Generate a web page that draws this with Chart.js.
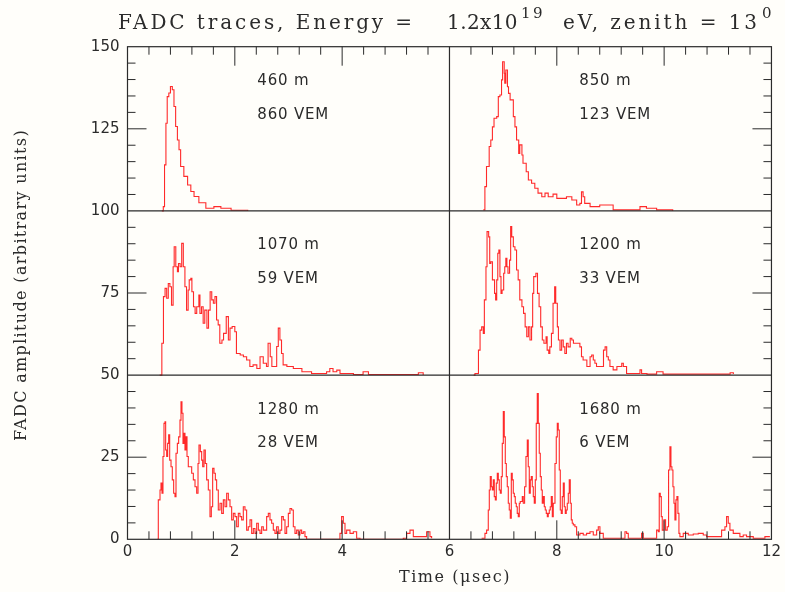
<!DOCTYPE html>
<html><head><meta charset="utf-8">
<script src="https://cdn.jsdelivr.net/npm/chart.js@4.4.0/dist/chart.umd.min.js"></script>
<style>html,body{margin:0;padding:0;background:#fffefa;}canvas{display:block}</style>
</head><body>
<canvas id="c" width="785" height="592"></canvas>
<script>
// ---- Data (time in µs within each panel, amplitude above the panel baseline) ----
const distances = ["460 m", "850 m", "1070 m", "1200 m", "1280 m", "1680 m"];
const signals = ["860 VEM", "123 VEM", "59 VEM", "33 VEM", "28 VEM", "6 VEM"];
const xTicks = [0, 2, 4, 6, 8, 10, 12];
const yTicks = [0, 25, 50, 75, 100, 125, 150];

const trace460 = [[0.64,0],[0.667,1.3],[0.69,14],[0.716,26.7],[0.74,34.8],[0.77,35.9],[0.80,37.9],[0.835,36.9],[0.866,31.8],[0.897,25.7],[0.93,21.6],[0.96,18.6],[0.99,13.5],[1.05,10.5],[1.12,7.9],[1.18,5.9],[1.24,4.4],[1.33,2.5],[1.46,0.8],[1.61,1.3],[1.74,0.8],[1.93,0.2],[2.24,0]];
const trace850 = [[0.63,0.3],[0.66,7.4],[0.69,13.5],[0.74,19.6],[0.77,21.6],[0.80,25.6],[0.83,28.2],[0.88,28.7],[0.91,34.8],[0.94,35.3],[0.97,39.9],[0.99,45.4],[1.02,41.9],[1.03,38.9],[1.05,42.9],[1.08,37.8],[1.10,35.8],[1.13,33.8],[1.16,33.8],[1.19,28.7],[1.22,25.6],[1.25,21.6],[1.29,17.5],[1.31,20.1],[1.35,17.0],[1.37,14.5],[1.43,11.9],[1.47,9.4],[1.53,8.4],[1.59,6.9],[1.65,5.4],[1.72,4.3],[1.78,5.4],[1.84,4.3],[1.93,5.1],[2.00,3.8],[2.09,3.8],[2.18,4.3],[2.28,3.3],[2.37,1.8],[2.43,2.3],[2.46,5.8],[2.49,4.3],[2.52,2.3],[2.62,1.3],[2.80,1.8],[3.05,0.3],[3.30,0.3],[3.55,1.3],[3.67,0.8],[3.86,0.3],[4.16,0]];
const trace1070 = [[0.60,0],[0.62,0],[0.64,9.7],[0.67,23.9],[0.70,26.4],[0.73,23.4],[0.76,27.9],[0.79,26.9],[0.82,21.3],[0.85,33.0],[0.87,39.1],[0.90,33.0],[0.93,31.5],[0.95,34.0],[0.98,33.0],[1.01,40.1],[1.04,33.0],[1.07,26.9],[1.10,19.8],[1.13,25.9],[1.15,29.0],[1.18,29.5],[1.20,25.4],[1.23,20.8],[1.26,18.8],[1.29,20.8],[1.33,24.4],[1.35,18.8],[1.38,20.8],[1.41,15.8],[1.44,19.8],[1.48,14.3],[1.51,19.8],[1.54,25.4],[1.57,22.9],[1.60,21.9],[1.63,23.9],[1.66,16.8],[1.69,15.3],[1.72,9.7],[1.76,10.7],[1.79,12.7],[1.84,17.8],[1.88,10.7],[1.91,14.3],[1.95,14.8],[2.00,13.2],[2.03,6.6],[2.10,6.1],[2.16,5.6],[2.22,4.6],[2.28,2.6],[2.34,3.1],[2.41,2.0],[2.47,5.6],[2.53,3.6],[2.59,2.6],[2.62,9.7],[2.66,5.6],[2.69,2.6],[2.78,8.7],[2.81,14.3],[2.84,10.7],[2.87,6.6],[2.90,3.1],[2.97,2.6],[3.09,2.0],[3.25,1.0],[3.43,0.5],[3.71,1.0],[3.77,2.0],[3.83,1.0],[3.90,1.5],[3.96,0.5],[4.21,0.2],[4.39,1.0],[4.49,0.2],[5.42,0.7],[5.51,0]];
const trace1200 = [[0.45,0],[0.475,0.5],[0.54,7.6],[0.57,13.7],[0.60,14.7],[0.63,12.7],[0.65,22.9],[0.68,33.0],[0.70,43.7],[0.73,42.1],[0.75,34.0],[0.77,34.5],[0.80,29.0],[0.82,29.0],[0.84,24.9],[0.86,22.9],[0.88,29.0],[0.90,37.1],[0.92,38.1],[0.94,30.0],[0.96,24.9],[0.98,25.9],[1.01,31.0],[1.03,33.0],[1.05,35.6],[1.07,33.0],[1.09,31.0],[1.12,35.0],[1.14,45.2],[1.16,42.1],[1.19,39.1],[1.22,38.1],[1.25,32.0],[1.28,29.0],[1.31,22.9],[1.35,20.8],[1.38,18.8],[1.41,14.7],[1.44,11.7],[1.47,14.7],[1.50,10.7],[1.53,14.7],[1.55,24.9],[1.57,30.0],[1.61,31.0],[1.64,24.9],[1.67,20.8],[1.70,14.7],[1.73,10.7],[1.76,9.7],[1.80,11.7],[1.82,7.6],[1.85,6.6],[1.87,8.6],[1.90,12.7],[1.93,21.9],[1.96,26.9],[1.98,21.9],[2.01,14.7],[2.03,10.7],[2.06,7.6],[2.09,10.7],[2.12,8.6],[2.15,6.6],[2.18,9.7],[2.21,8.6],[2.25,11.2],[2.28,10.7],[2.31,9.7],[2.37,9.7],[2.43,8.6],[2.46,5.6],[2.49,4.6],[2.56,2.6],[2.62,5.6],[2.65,6.1],[2.68,4.6],[2.71,3.6],[2.74,2.6],[2.80,2.6],[2.87,7.6],[2.90,8.6],[2.93,5.6],[2.96,4.6],[2.99,2.6],[3.05,1.6],[3.12,2.6],[3.18,2.6],[3.21,3.6],[3.24,2.6],[3.30,0.5],[3.55,1.6],[3.58,0.5],[3.68,0.3],[3.86,1.0],[3.92,1.0],[3.98,0.3],[5.23,0.7],[5.29,0.3]];
const trace1280 = [[0.556,0],[0.574,12.0],[0.606,15.0],[0.624,17.1],[0.643,14.0],[0.661,25.2],[0.680,35.3],[0.699,35.8],[0.711,27.2],[0.730,25.2],[0.748,29.2],[0.767,31.8],[0.786,24.1],[0.811,22.1],[0.835,18.1],[0.860,14.0],[0.885,13.0],[0.904,26.2],[0.929,29.2],[0.953,31.2],[0.978,36.3],[0.997,41.9],[1.015,38.4],[1.034,29.2],[1.053,32.3],[1.071,27.2],[1.090,31.2],[1.109,25.2],[1.133,22.1],[1.165,22.1],[1.196,20.1],[1.227,18.1],[1.258,16.0],[1.289,14.0],[1.314,23.1],[1.332,28.7],[1.357,26.7],[1.382,24.1],[1.401,22.1],[1.425,27.2],[1.450,23.1],[1.475,18.1],[1.506,15.0],[1.537,6.9],[1.562,9.9],[1.587,21.6],[1.612,20.1],[1.637,18.1],[1.661,15.0],[1.692,8.9],[1.724,11.0],[1.755,7.9],[1.786,12.0],[1.817,9.9],[1.848,14.0],[1.879,12.0],[1.910,9.9],[1.941,5.9],[1.972,7.9],[2.003,6.9],[2.034,3.8],[2.065,7.9],[2.096,6.9],[2.127,5.9],[2.158,9.9],[2.189,8.9],[2.220,2.8],[2.251,3.8],[2.283,5.9],[2.314,1.8],[2.345,3.3],[2.376,1.8],[2.407,4.9],[2.438,2.8],[2.469,1.8],[2.500,3.8],[2.531,2.8],[2.593,6.9],[2.624,7.9],[2.655,5.9],[2.686,4.9],[2.717,2.8],[2.748,1.8],[2.779,3.8],[2.810,1.8],[2.841,2.8],[2.873,6.9],[2.904,5.9],[2.935,1.8],[2.966,3.8],[2.997,7.9],[3.028,9.4],[3.059,8.9],[3.090,3.8],[3.121,1.8],[3.152,2.8],[3.183,1.3],[3.214,2.8],[3.245,1.8],[3.276,2.3],[3.307,0.8],[3.338,0],[3.835,0],[3.959,1.8],[3.990,6.9],[4.022,4.9],[4.053,1.8],[4.084,2.8],[4.146,1.8],[4.208,2.3],[4.270,0.3],[4.332,0],[5.139,0.3],[5.202,1.8],[5.264,2.8],[5.326,0.8],[5.512,0.8],[5.574,2.3],[5.636,0.8],[5.667,0.3]];
const trace1680 = [[0.599,0.3],[0.661,1.8],[0.692,2.8],[0.723,8.9],[0.742,15.0],[0.760,19.1],[0.779,16.0],[0.798,15.0],[0.816,18.1],[0.835,13.0],[0.854,12.0],[0.872,17.1],[0.891,20.1],[0.910,18.1],[0.928,15.0],[0.947,14.0],[0.965,19.1],[0.984,29.2],[1.003,38.9],[1.021,31.2],[1.040,23.1],[1.059,19.1],[1.077,16.0],[1.096,11.0],[1.114,8.9],[1.133,6.4],[1.152,20.1],[1.170,18.1],[1.189,14.0],[1.208,13.0],[1.226,11.0],[1.245,9.9],[1.263,7.9],[1.282,6.9],[1.301,11.0],[1.319,11.5],[1.338,11.5],[1.357,13.0],[1.375,11.0],[1.400,16.0],[1.425,25.2],[1.450,30.2],[1.468,22.1],[1.487,14.0],[1.506,18.1],[1.524,19.1],[1.543,16.0],[1.562,13.0],[1.580,11.0],[1.599,18.1],[1.617,35.3],[1.636,44.4],[1.655,35.3],[1.673,26.2],[1.692,19.1],[1.711,15.0],[1.729,11.0],[1.748,13.0],[1.767,9.9],[1.785,8.9],[1.804,7.9],[1.823,6.9],[1.841,7.9],[1.860,8.9],[1.878,9.9],[1.897,13.0],[1.916,6.9],[1.934,11.0],[1.966,23.1],[1.990,31.2],[2.009,35.3],[2.027,33.3],[2.046,21.1],[2.065,8.9],[2.083,7.9],[2.102,13.0],[2.121,17.1],[2.139,9.9],[2.158,7.9],[2.176,8.9],[2.195,11.0],[2.214,14.0],[2.232,18.1],[2.251,11.0],[2.270,5.9],[2.288,4.9],[2.307,4.4],[2.338,3.8],[2.369,1.3],[2.431,1.8],[2.493,1.3],[2.555,1.8],[2.618,2.3],[2.680,1.3],[2.742,2.8],[2.773,3.8],[2.804,1.8],[2.866,0.3],[3.239,0.3],[3.270,2.3],[3.301,1.8],[3.332,0.3],[3.549,0.3],[3.580,1.8],[3.611,0.3],[3.798,0.3],[3.860,2.8],[3.891,2.3],[3.909,14.0],[3.928,13.0],[3.947,6.9],[3.965,2.8],[3.996,5.9],[4.027,2.8],[4.058,3.8],[4.083,21.1],[4.108,28.2],[4.127,22.1],[4.145,21.1],[4.164,16.0],[4.183,11.0],[4.201,5.9],[4.220,12.0],[4.238,13.0],[4.257,7.9],[4.276,1.8],[4.294,0.8],[4.356,1.8],[4.450,1.3],[4.543,1.6],[4.636,1.8],[4.729,1.3],[4.791,0.8],[4.978,0.8],[5.071,2.8],[5.102,2.8],[5.133,3.8],[5.164,6.9],[5.195,4.9],[5.226,2.8],[5.288,1.8],[5.412,0.8],[5.474,1.3],[5.536,0.8],[5.661,0.3],[5.878,0.8],[5.971,0.8]];

// ---- Panel layout (time offset, amplitude offset of each panel) ----
const traces = [trace460, trace850, trace1070, trace1200, trace1280, trace1680];
const panelTimeOffset = [0, 6, 0, 6, 0, 6];
const panelAmpOffset = [100, 100, 50, 50, 0, 0];

const INK = '#2b2b2b';
const TRACE = '#ff2a2a';

function fitText(ctx, s, x, y, target, ls0) {
  ctx.letterSpacing = '0px';
  const w = ctx.measureText(s).width;
  const ls = target ? Math.max(0, (target - w) / s.length) : (ls0 || 0);
  ctx.letterSpacing = ls + 'px';
  ctx.fillText(s, x, y);
  ctx.letterSpacing = '0px';
}

const decor = {
  id: 'decor',
  beforeDraw(chart) {
    const c = chart.ctx;
    c.save(); c.fillStyle = '#fffefa'; c.fillRect(0, 0, chart.width, chart.height); c.restore();
  },
  afterDatasetsDraw(chart) {
    const c = chart.ctx, a = chart.chartArea;
    const xs = chart.scales.x, ys = chart.scales.y;
    c.save();
    c.strokeStyle = INK; c.lineWidth = 1.2;
    c.strokeRect(a.left, a.top, a.right - a.left, a.bottom - a.top);
    c.beginPath();
    const xm = xs.getPixelForValue(6);
    c.moveTo(xm, a.top); c.lineTo(xm, a.bottom);
    [50, 100].forEach(v => { const y = ys.getPixelForValue(v); c.moveTo(a.left, y); c.lineTo(a.right, y); });
    c.stroke();
    c.lineWidth = 1;
    c.beginPath();
    for (let i = 1; i < 30; i++) {
      if (i === 15) continue;
      const x = xs.getPixelForValue(i * 0.4);
      const len = (i % 5 === 0) ? 19 : 8;
      c.moveTo(x, a.bottom); c.lineTo(x, a.bottom - len);
      c.moveTo(x, a.top); c.lineTo(x, a.top + len);
    }
    for (let i = 1; i < 30; i++) {
      if (i % 10 === 0) continue;
      const y = ys.getPixelForValue(i * 5);
      const len = (i % 5 === 0) ? 19 : 8;
      c.moveTo(a.left, y); c.lineTo(a.left + len, y);
      c.moveTo(a.right, y); c.lineTo(a.right - len, y);
    }
    c.stroke();
    c.restore();
  },
  afterDraw(chart) {
    const c = chart.ctx;
    const xs = chart.scales.x, ys = chart.scales.y;
    c.save();
    c.fillStyle = INK;
    c.textBaseline = 'alphabetic';
    c.textAlign = 'left';
    // panel annotations
    c.font = '15px "DejaVu Sans"';
    for (let i = 0; i < 6; i++) {
      const x = xs.getPixelForValue(panelTimeOffset[i] + 2.42);
      fitText(c, distances[i], x, ys.getPixelForValue(panelAmpOffset[i] + 38.3), 0, 0.8);
      fitText(c, signals[i], x, ys.getPixelForValue(panelAmpOffset[i] + 28.0), 0, 0.8);
    }
    // title
    c.font = '20px "DejaVu Serif"';
    fitText(c, 'FADC traces, Energy =', 118, 29, 297);
    fitText(c, '1.2x10', 447, 29, 71);
    c.font = '15px "DejaVu Serif"';
    fitText(c, '19', 521, 18, 24);
    c.font = '20px "DejaVu Serif"';
    fitText(c, 'eV, zenith = 13', 563, 29, 197);
    c.font = '15px "DejaVu Serif"';
    fitText(c, '0', 762, 18, 11);
    // x axis title
    c.font = '16px "DejaVu Serif"';
    c.textBaseline = 'middle';
    fitText(c, 'Time (\u03BCsec)', 399, 578, 112);
    // y axis title
    c.translate(22, 285);
    c.rotate(-Math.PI / 2);
    fitText(c, 'FADC amplitude (arbitrary units)', -156, 0, 312);
    c.restore();
  }
};

const datasets = traces.map((tr, i) => ({
  data: tr.map(([t, v]) => ({ x: t + panelTimeOffset[i], y: v + panelAmpOffset[i] })),
  borderColor: TRACE,
  borderWidth: 1.1,
  pointRadius: 0,
  showLine: true,
  stepped: true,
  fill: false
}));

new Chart(document.getElementById('c'), {
  type: 'scatter',
  data: { datasets },
  plugins: [decor],
  options: {
    responsive: false,
    animation: false,
    layout: { padding: { top: 46.7, right: 13.5, left: 0, bottom: 0 } },
    plugins: { legend: { display: false }, tooltip: { enabled: false }, title: { display: false } },
    scales: {
      x: {
        type: 'linear', min: 0, max: 12,
        afterBuildTicks(s) { s.ticks = xTicks.map(v => ({ value: v })); },
        ticks: { font: { family: 'DejaVu Sans', size: 15 }, color: INK, padding: 4, maxRotation: 0 },
        grid: { display: false, drawTicks: false },
        border: { display: false },
        afterFit(s) { s.height = 52.7; }
      },
      y: {
        type: 'linear', min: 0, max: 150,
        afterBuildTicks(s) { s.ticks = yTicks.map(v => ({ value: v })); },
        ticks: { font: { family: 'DejaVu Sans', size: 15 }, color: INK, padding: 8 },
        grid: { display: false, drawTicks: false },
        border: { display: false },
        afterFit(s) { s.width = 127.5; }
      }
    }
  }
});
</script>
</body></html>
